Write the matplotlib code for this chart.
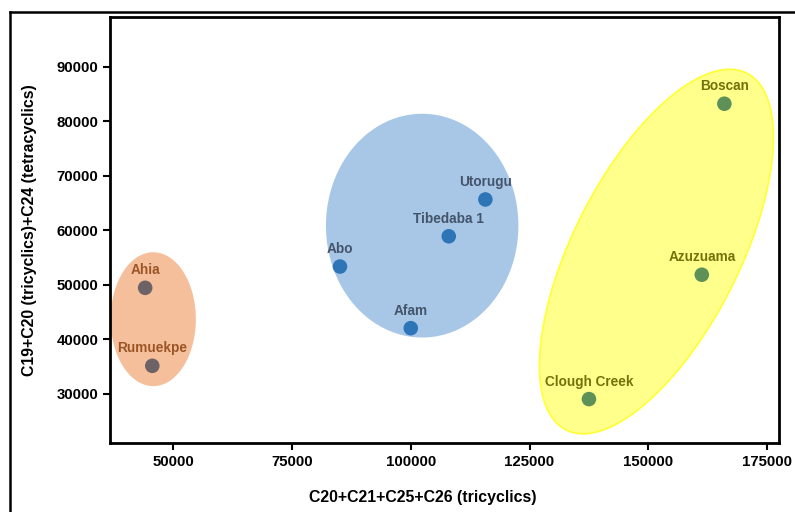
import numpy as np
import matplotlib
matplotlib.use("Agg")
import matplotlib.pyplot as plt
from matplotlib.lines import Line2D

plt.rcParams['font.family'] = ['Liberation Sans', 'DejaVu Sans']

# ---- data ----
names_a = ["Ahia", "Rumuekpe"]
x_a = [44100, 45600]
y_a = [49450, 35150]

names_b = ["Abo", "Afam", "Tibedaba 1", "Utorugu"]
x_b = [85100, 100000, 108000, 115700]
y_b = [53350, 42050, 58900, 65650]

names_c = ["Boscan", "Azuzuama", "Clough Creek"]
x_c = [166000, 161250, 137500]
y_c = [83200, 51850, 29050]

x_ticks = [50000, 75000, 100000, 125000, 150000, 175000]
y_ticks = [30000, 40000, 50000, 60000, 70000, 80000, 90000]

fig = plt.figure(figsize=(7.95, 5.12), dpi=100)
ax = fig.add_axes([110/795, 1-443/512, (779-110)/795, (443-17)/512])
ax.set_xlim(36700, 177500)
ax.set_ylim(21000, 99100)

# pixel -> data scales (approx)
sx = 25000/118.5
sy = 10000/54.6

def ellipse_poly(cx, cy, a_px, b_px, ang_deg):
    t = np.linspace(0, 2*np.pi, 300)
    th = np.deg2rad(ang_deg)
    px = a_px*np.cos(t)*np.cos(th) - b_px*np.sin(t)*np.sin(th)
    py = a_px*np.cos(t)*np.sin(th) + b_px*np.sin(t)*np.cos(th)
    return cx + px*sx, cy + py*sy

# group ellipses
ex, ey = ellipse_poly(45800, 43700, 42.5, 67, 0)
ax.fill(ex, ey, color='#F6BF9B', zorder=1, lw=0)
ex, ey = ellipse_poly(102400, 60850, 96, 112, 0)
ax.fill(ex, ey, color='#A8C7E6', zorder=1, lw=0)
ex, ey = ellipse_poly(151700, 56100, 200, 83, 63.2)
ax.fill(ex, ey, facecolor='#FFFF8C', edgecolor='#FFFF33', lw=1.2, zorder=1)

ax.scatter(x_a, y_a, s=110, color='#6D6266', zorder=3, edgecolors='none')
ax.scatter(x_b, y_b, s=110, color='#2E75B8', zorder=3, edgecolors='none')
ax.scatter(x_c, y_c, s=110, color='#5E9158', zorder=3, edgecolors='none')

lab_kw = dict(ha='center', va='bottom', fontsize=9.8, fontweight='bold', zorder=4)
for n, x, y in zip(names_a, x_a, y_a):
    ax.annotate(n, (x, y), xytext=(0, 7.5), textcoords='offset points', color='#9A5527', **lab_kw)
for n, x, y in zip(names_b, x_b, y_b):
    ax.annotate(n, (x, y), xytext=(0, 7.5), textcoords='offset points', color='#44546A', **lab_kw)
for n, x, y in zip(names_c, x_c, y_c):
    ax.annotate(n, (x, y), xytext=(0, 7.5), textcoords='offset points', color='#72720A', **lab_kw)

ax.set_xticks(x_ticks)
ax.set_yticks(y_ticks)
ax.tick_params(axis='both', direction='out', length=5, width=1.5, labelsize=10.8)
for lab in ax.get_xticklabels() + ax.get_yticklabels():
    lab.set_fontweight('bold')
for sp in ax.spines.values():
    sp.set_linewidth(2)
ax.set_xlabel('C20+C21+C25+C26 (tricyclics)', fontsize=11.4, fontweight='bold')
ax.xaxis.set_label_coords(0.468, -47/426)
ax.set_ylabel('C19+C20 (tricyclics)+C24 (tetracyclics)', fontsize=11.4, fontweight='bold', labelpad=14)

# outer frame
fig.add_artist(Line2D([10/795, 10/795], [0, 1-12/512], color='black', lw=1.8, transform=fig.transFigure))
fig.add_artist(Line2D([10/795, 1], [1-12/512, 1-12/512], color='black', lw=1.8, transform=fig.transFigure))

fig.savefig('out.png', dpi=100)
